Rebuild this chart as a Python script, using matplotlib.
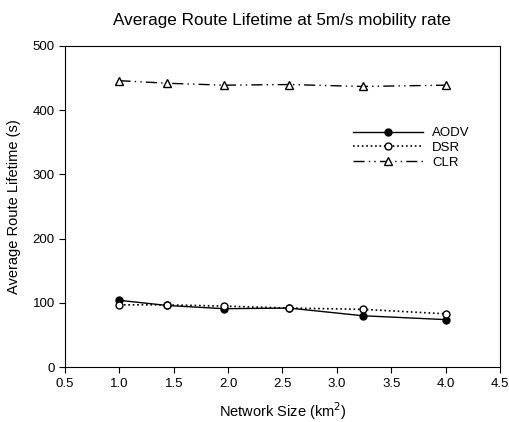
import matplotlib.pyplot as plt

# values
network_size = [1.0, 1.44, 1.96, 2.56, 3.24, 4.0]
aodv = [104, 96, 91, 92, 80, 74]
dsr = [97, 97, 95, 92, 90, 83]
clr = [446, 442, 439, 440, 437, 439]

plt.rcParams['font.family'] = ['Liberation Sans', 'DejaVu Sans']

fig = plt.figure(figsize=(5.09, 4.22), dpi=100)
ax = fig.add_axes([0.128, 0.130, 0.854, 0.761])

ax.plot(network_size, aodv, '-', color='black', lw=1, marker='o', ms=5,
        mfc='black', mec='black', label='AODV')
ax.plot(network_size, dsr, ':', color='black', lw=1.2, marker='o', ms=5,
        mfc='white', mec='black', label='DSR')
ax.plot(network_size, clr, color='black', lw=1, dashes=[8, 3, 1, 3, 1, 3],
        marker='^', ms=6, mfc='white', mec='black', label='CLR')

ax.set_xlim(0.5, 4.5)
ax.set_ylim(0, 500)
ax.set_xticks([0.5, 1.0, 1.5, 2.0, 2.5, 3.0, 3.5, 4.0, 4.5])
ax.set_yticks([0, 100, 200, 300, 400, 500])
ax.tick_params(direction='out', length=4, labelsize=9.5)
for s in ax.spines.values():
    s.set_linewidth(0.8)

ax.set_xlabel('Network Size (km$^2$)', fontsize=10.5, labelpad=8)
ax.set_ylabel('Average Route Lifetime (s)', fontsize=10.5, labelpad=8)
ax.set_title('Average Route Lifetime at 5m/s mobility rate', fontsize=12.3, pad=15)

ax.legend(loc='upper left', bbox_to_anchor=(0.635, 0.785), frameon=False,
          fontsize=9.5, handlelength=5.3, labelspacing=0.2, handletextpad=0.7)

fig.savefig('out.png', dpi=100)
